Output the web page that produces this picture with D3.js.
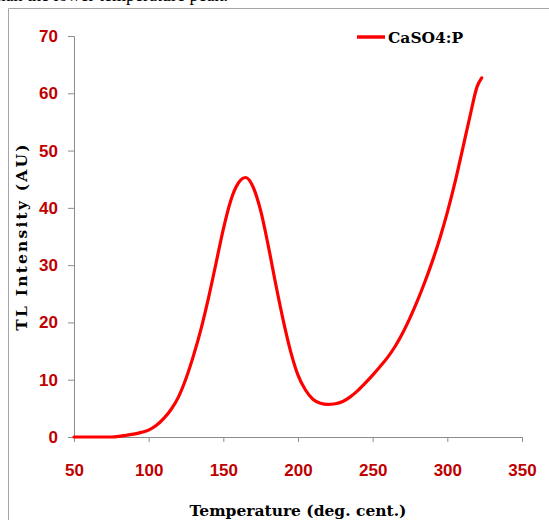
<!DOCTYPE html>
<html>
<head>
<meta charset="utf-8">
<script src="https://cdn.jsdelivr.net/npm/d3@7"></script>
<style>
  body { margin: 0; background: #fff; }
  svg { display: block; }
</style>
</head>
<body>
<script>
// TL glow curve
let temps = [50, 55, 60, 65, 70, 75, 80, 85, 90, 95, 100, 105, 110, 115, 120, 125, 130, 135, 140, 145,
             150, 155, 160, 165, 170, 175, 180, 185, 190, 195, 200, 205, 210, 215, 220, 225, 230, 235,
             240, 245, 250, 255, 260, 265, 270, 275, 280, 285, 290, 295, 300, 305, 310, 315, 320, 323];
let intensity = [0, 0, 0, 0, 0, 0, 0.1, 0.3, 0.5, 0.8, 1.2, 2.0, 3.2, 4.8, 7.0, 10.2, 14.2, 18.8, 24.2, 30.2,
                 36.3, 41.3, 44.3, 45.3, 43.6, 39.5, 33.5, 26.8, 20.5, 15, 10.8, 8.2, 6.6, 5.9, 5.7, 5.8, 6.2, 7.0,
                 8.1, 9.4, 10.8, 12.3, 13.9, 15.8, 18.1, 20.8, 23.8, 27.1, 30.7, 34.7, 39.2, 44.3, 50, 55.8, 61.2, 62.7];
let xTicks = [50, 100, 150, 200, 250, 300, 350];
let yTicks = [0, 10, 20, 30, 40, 50, 60, 70];
let seriesName = 'CaSO4:P';

let dataset = temps.map((t, i) => [t, intensity[i]]);

let w = 549, h = 520;
let padL = 74, padR = 522, padT = 36, padB = 437; // plot area edges

let svg = d3.select('body')
  .append('svg')
  .attr('width', w)
  .attr('height', h);

// caption line from the page above, cut by the top edge
svg.append('text')
   .attr('x', 228)
   .attr('y', 0.5)
   .attr('text-anchor', 'end')
   .style('font-family', '"Liberation Serif", serif')
   .style('font-size', '18px')
   .text('than the lower temperature peak.');

// outer frame (only top and left edges show)
svg.append('path')
   .attr('d', 'M8.5,' + h + 'V8.5H' + w)
   .attr('fill', 'none')
   .attr('stroke', '#a6a6a6')
   .attr('stroke-width', 1);

let xScale = d3.scaleLinear()
               .domain([50, 350])
               .range([padL, padR]);

let yScale = d3.scaleLinear()
               .domain([0, 70])
               .range([padB, padT]);

let xAxis = d3.axisBottom(xScale).tickValues(xTicks).tickSize(5).tickPadding(22);
let yAxis = d3.axisLeft(yScale).tickValues(yTicks).tickSize(6).tickPadding(10);

let gx = svg.append('g')
   .attr('transform', 'translate(0,' + padB + ')')
   .call(xAxis);

let gy = svg.append('g')
   .attr('transform', 'translate(' + padL + ',0)')
   .call(yAxis);

[gx, gy].forEach(g => {
  g.select('.domain').attr('stroke', '#8c8c8c');
  g.selectAll('.tick line').attr('stroke', '#8c8c8c');
  g.selectAll('.tick text')
   .attr('fill', '#c00000')
   .style('font-family', '"Liberation Sans", Arial, sans-serif')
   .style('font-weight', 'bold')
   .style('font-size', '17px');
});

// the curve
let line = d3.line()
             .x(d => xScale(d[0]))
             .y(d => yScale(d[1]))
             .curve(d3.curveMonotoneX);

svg.append('path')
   .datum(dataset)
   .attr('d', line)
   .attr('fill', 'none')
   .attr('stroke', '#ff0000')
   .attr('stroke-width', 3.2)
   .attr('stroke-linecap', 'round');

let titleFont = '"DejaVu Serif", serif';

svg.append('text')
   .attr('x', (padL + padR) / 2)
   .attr('y', 516)
   .attr('text-anchor', 'middle')
   .style('font-family', titleFont)
   .style('font-weight', 'bold')
   .style('font-size', '15.5px')
   .text('Temperature (deg. cent.)');

svg.append('text')
   .attr('transform', 'translate(27,' + (padT + padB) / 2 + ') rotate(-90)')
   .attr('text-anchor', 'middle')
   .style('font-family', titleFont)
   .style('font-weight', 'bold')
   .style('font-size', '15.5px')
   .style('letter-spacing', '2.2px')
   .text('TL Intensity (AU)');

// legend
let lg = svg.append('g').attr('transform', 'translate(357,37)');
lg.append('line')
  .attr('x1', 0).attr('x2', 28)
  .attr('stroke', '#ff0000')
  .attr('stroke-width', 3.5);
lg.append('text')
  .attr('x', 31)
  .attr('y', 6)
  .style('font-family', titleFont)
  .style('font-weight', 'bold')
  .style('font-size', '15.5px')
  .text(seriesName);
</script>
</body>
</html>
